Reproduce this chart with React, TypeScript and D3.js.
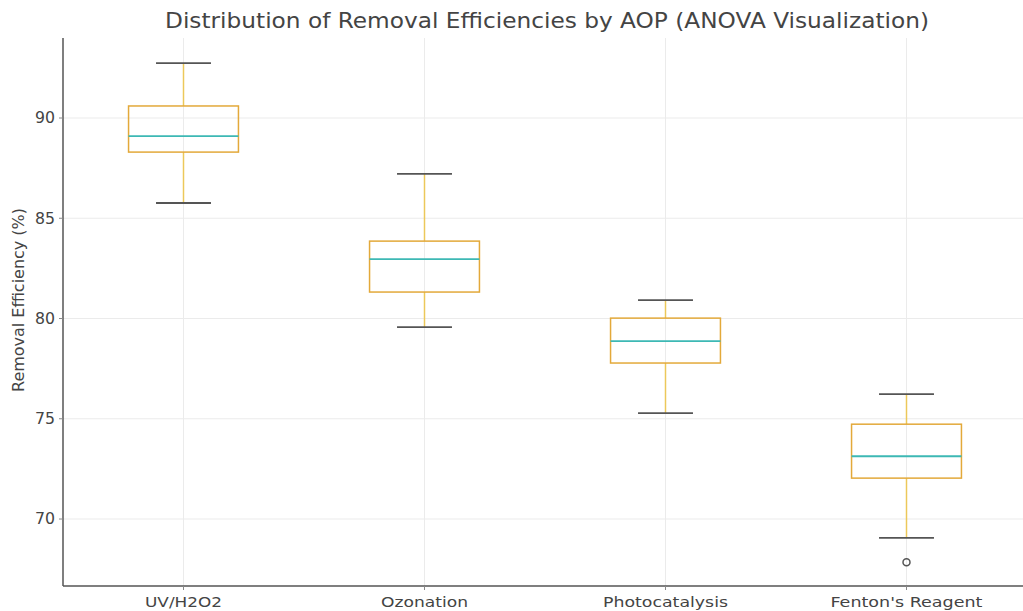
import React from "react";
import * as d3 from "d3";

const categories = ["UV/H2O2", "Ozonation", "Photocatalysis", "Fenton's Reagent"];
const whiskerLow = [85.76, 79.57, 75.28, 69.06];
const q1 = [88.3, 81.32, 77.78, 72.04];
const medians = [89.1, 82.96, 78.87, 73.13];
const q3 = [90.6, 83.86, 80.02, 74.73];
const whiskerHigh = [92.74, 87.21, 80.92, 76.23];
const outliers = [[], [], [], [67.84]];
const yTicks = [70, 75, 80, 85, 90];
const xLabelWidths = [77, 87, 125, 152];

const W = 1023, H = 611;
const left = 63, right = 1027, top = 38, bottom = 586;

export default function App() {
  const x = d3.scaleLinear().domain([0.5, 4.5]).range([left, right]);
  const y = d3.scaleLinear().domain([66.66, 93.99]).range([bottom, top]);
  const step = x(2) - x(1);
  const boxHalf = step * 0.228;
  const capHalf = boxHalf / 2;
  const font = "DejaVu Sans, sans-serif";
  const textColor = "#444";
  return (
    <svg width={W} height={H} style={{ position: "absolute", left: 0, top: 0, background: "#fff" }}>
      <rect x={0} y={0} width={W} height={H} fill="#fff" />
      {yTicks.map((t) => (
        <line key={"gy" + t} x1={left} x2={right} y1={y(t)} y2={y(t)} stroke="#ebebeb" strokeWidth={1} />
      ))}
      {categories.map((c, i) => (
        <line key={"gx" + c} x1={x(i + 1)} x2={x(i + 1)} y1={top} y2={bottom} stroke="#ebebeb" strokeWidth={1} />
      ))}
      {categories.map((c, i) => {
        const cx = x(i + 1);
        return (
          <g key={"b" + c}>
            <line x1={cx} x2={cx} y1={y(q3[i])} y2={y(whiskerHigh[i])} stroke="#ecc85a" strokeWidth={1.5} />
            <line x1={cx} x2={cx} y1={y(q1[i])} y2={y(whiskerLow[i])} stroke="#ecc85a" strokeWidth={1.5} />
            <line x1={cx - capHalf} x2={cx + capHalf} y1={y(whiskerHigh[i])} y2={y(whiskerHigh[i])} stroke="#555" strokeWidth={1.8} />
            <line x1={cx - capHalf} x2={cx + capHalf} y1={y(whiskerLow[i])} y2={y(whiskerLow[i])} stroke="#555" strokeWidth={1.8} />
            <rect x={cx - boxHalf} y={y(q3[i])} width={boxHalf * 2} height={y(q1[i]) - y(q3[i])} fill="none" stroke="#e3a93a" strokeWidth={1.5} />
            <line x1={cx - boxHalf} x2={cx + boxHalf} y1={y(medians[i])} y2={y(medians[i])} stroke="#3db8b4" strokeWidth={1.8} />
            {outliers[i].map((o, j) => (
              <circle key={j} cx={cx} cy={y(o)} r={3.5} fill="none" stroke="#555" strokeWidth={1.5} />
            ))}
          </g>
        );
      })}
      <line x1={left} x2={left} y1={top} y2={bottom} stroke="#555" strokeWidth={1.5} />
      <line x1={left} x2={right} y1={bottom} y2={bottom} stroke="#555" strokeWidth={1.5} />
      {yTicks.map((t) => (
        <g key={"yt" + t}>
          <line x1={left - 4} x2={left} y1={y(t)} y2={y(t)} stroke="#888" strokeWidth={1} />
          <text x={left - 8} y={y(t)} dy="0.36em" textAnchor="end" fontFamily={font} fontSize={15} textLength={20} lengthAdjust="spacingAndGlyphs" fill={textColor}>{t}</text>
        </g>
      ))}
      {categories.map((c, i) => (
        <g key={"xt" + c}>
          <line x1={x(i + 1)} x2={x(i + 1)} y1={bottom} y2={bottom + 4} stroke="#888" strokeWidth={1} />
          <text x={x(i + 1)} y={607} textAnchor="middle" fontFamily={font} fontSize={14.5} textLength={xLabelWidths[i]} lengthAdjust="spacingAndGlyphs" fill={textColor}>{c}</text>
        </g>
      ))}
      <text transform={`translate(24, 300) rotate(-90)`} textAnchor="middle" fontFamily={font} fontSize={15} textLength={184} lengthAdjust="spacingAndGlyphs" fill={textColor}>Removal Efficiency (%)</text>
      <text x={547} y={28} textAnchor="middle" fontFamily={font} fontSize={21} textLength={764} lengthAdjust="spacingAndGlyphs" fill={textColor}>Distribution of Removal Efficiencies by AOP (ANOVA Visualization)</text>
    </svg>
  );
}
